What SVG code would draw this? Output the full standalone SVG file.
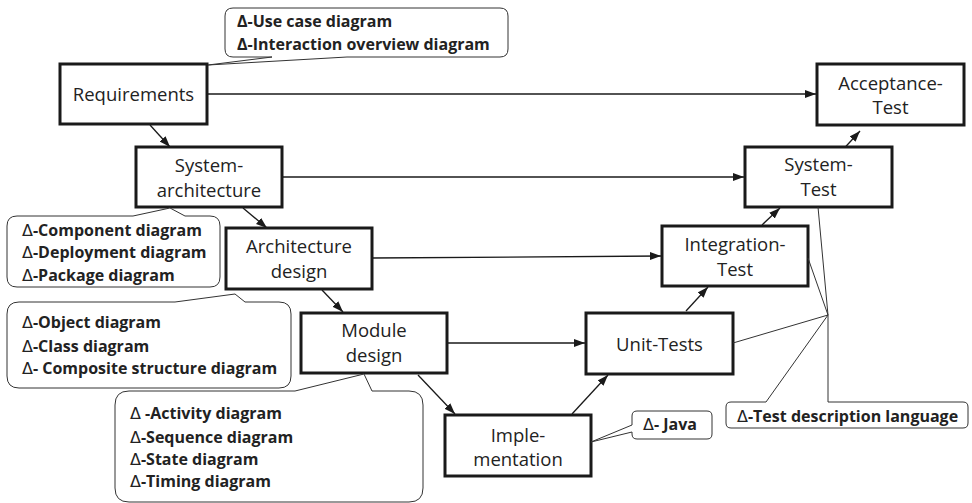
<svg xmlns="http://www.w3.org/2000/svg" width="972" height="503" viewBox="0 0 972 503">
<style>
.node rect{fill:#fff;stroke:#1a1a1a;stroke-width:3}
.node text{font-family:"Open Sans","Liberation Sans",sans-serif;font-size:18.5px;fill:#222;text-anchor:middle}
.conn line{stroke:#1a1a1a;stroke-width:1.3;fill:none}
.call path{fill:#fff;stroke:#333;stroke-width:1}
.call text{font-family:"Open Sans","Liberation Sans",sans-serif;font-size:16px;font-weight:bold;fill:#222}
.call .d{font-family:"DejaVu Sans",sans-serif;font-weight:normal}
.lead{stroke:#333;stroke-width:1;fill:none}
</style>
<defs>
<marker id="ah" markerUnits="userSpaceOnUse" markerWidth="12" markerHeight="10" refX="11" refY="4" orient="auto">
<path d="M0,0 L11,4 L0,8 Z" fill="#1a1a1a"/>
</marker>
</defs>

<g id="connectors" class="conn">
<line x1="207" y1="94" x2="816" y2="94" marker-end="url(#ah)"/>
<line x1="282" y1="177" x2="744" y2="177" marker-end="url(#ah)"/>
<line x1="372" y1="258" x2="661" y2="256" marker-end="url(#ah)"/>
<line x1="447" y1="343" x2="585" y2="343" marker-end="url(#ah)"/>
<line x1="150" y1="125" x2="170" y2="147" marker-end="url(#ah)"/>
<line x1="243" y1="208" x2="267" y2="228" marker-end="url(#ah)"/>
<line x1="322" y1="290" x2="343" y2="312" marker-end="url(#ah)"/>
<line x1="418" y1="375" x2="455" y2="414" marker-end="url(#ah)"/>
<line x1="572" y1="414" x2="608" y2="375" marker-end="url(#ah)"/>
<line x1="686" y1="311" x2="708" y2="287" marker-end="url(#ah)"/>
<line x1="762" y1="225" x2="780" y2="208" marker-end="url(#ah)"/>
<line x1="839" y1="154" x2="860" y2="131" marker-end="url(#ah)"/>
</g>

<g id="n-requirements" class="node"><rect x="60" y="64" width="147" height="60"/><text x="133.5" y="101">Requirements</text></g>
<g id="n-sysarch" class="node"><rect x="136" y="147" width="146" height="60"/><text x="209" y="172">System-</text><text x="209" y="197">architecture</text></g>
<g id="n-archdesign" class="node"><rect x="226" y="228" width="146" height="61"/><text x="299" y="253">Architecture</text><text x="299" y="278">design</text></g>
<g id="n-moduledesign" class="node"><rect x="301" y="313" width="146" height="60"/><text x="374" y="337">Module</text><text x="374" y="362">design</text></g>
<g id="n-impl" class="node"><rect x="445" y="415" width="146" height="61"/><text x="518" y="442">Imple-</text><text x="518" y="466">mentation</text></g>
<g id="n-unit" class="node"><rect x="586" y="313" width="147" height="61"/><text x="659.5" y="351">Unit-Tests</text></g>
<g id="n-integration" class="node"><rect x="662" y="226" width="146" height="60"/><text x="735" y="251">Integration-</text><text x="735" y="276">Test</text></g>
<g id="n-systest" class="node"><rect x="745" y="147" width="147" height="60"/><text x="818.5" y="171">System-</text><text x="818.5" y="196">Test</text></g>
<g id="n-accept" class="node"><rect x="817" y="64" width="147" height="61"/><text x="890.5" y="90">Acceptance-</text><text x="890.5" y="114">Test</text></g>

<g id="c-usecase" class="call">
<path d="M233,8 H500 Q508,8 508,16 V49 Q508,57 500,57 H347 L208,65 L272,57 H233 Q225,57 225,49 V16 Q225,8 233,8 Z"/>
<text x="237" y="27">Δ-Use case diagram</text>
<text x="237" y="50">Δ-Interaction overview diagram</text>
</g>
<g id="c-component" class="call">
<path d="M17,216 H133 L170,208 L185,216 H210 Q220,216 220,226 V277 Q220,287 210,287 H17 Q7,287 7,277 V226 Q7,216 17,216 Z"/>
<text x="22" y="236"><tspan class="d">Δ</tspan>-Component diagram</text>
<text x="22" y="258"><tspan class="d">Δ</tspan>-Deployment diagram</text>
<text x="22" y="281"><tspan class="d">Δ</tspan>-Package diagram</text>
</g>
<g id="c-object" class="call">
<path d="M19,302 H175 L235,294 L245,302 H279 Q291,302 291,314 V376 Q291,388 279,388 H19 Q7,388 7,376 V314 Q7,302 19,302 Z"/>
<text x="22" y="328"><tspan class="d">Δ</tspan>-Object diagram</text>
<text x="22" y="352"><tspan class="d">Δ</tspan>-Class diagram</text>
<text x="22" y="374"><tspan class="d">Δ</tspan>- Composite structure diagram</text>
</g>
<g id="c-activity" class="call">
<path d="M129,391 H295 L364,374 L372,391 H409 Q423,391 423,405 V488 Q423,502 409,502 H129 Q115,502 115,488 V405 Q115,391 129,391 Z"/>
<text x="130" y="419"><tspan class="d">Δ</tspan> -Activity diagram</text>
<text x="130" y="443"><tspan class="d">Δ</tspan>-Sequence diagram</text>
<text x="130" y="465"><tspan class="d">Δ</tspan>-State diagram</text>
<text x="130" y="487"><tspan class="d">Δ</tspan>-Timing diagram</text>
</g>
<g id="c-java" class="call">
<path d="M637,411 H707 Q712,411 712,416 V434 Q712,439 707,439 H637 Q632,439 632,434 V432 L591,442 L632,425 V416 Q632,411 637,411 Z"/>
<text x="643" y="430"><tspan class="d">Δ</tspan>- Java</text>
</g>
<g id="c-tdl" class="call">
<line class="lead" x1="818" y1="207" x2="828" y2="315"/>
<line class="lead" x1="808" y1="258" x2="828" y2="315"/>
<line class="lead" x1="733" y1="343" x2="828" y2="315"/>
<path d="M731,402 H766 L828,315 L828,402 H963 Q968,402 968,407 V423 Q968,428 963,428 H731 Q726,428 726,423 V407 Q726,402 731,402 Z"/>
<text x="737" y="422"><tspan class="d">Δ</tspan>-Test description language</text>
</g>
</svg>
